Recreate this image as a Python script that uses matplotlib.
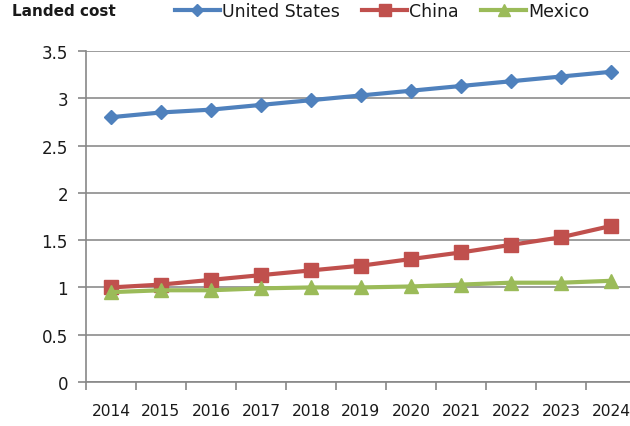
import matplotlib
matplotlib.use("Agg")
import matplotlib.pyplot as plt

years = ["2014", "2015", "2016", "2017", "2018", "2019", "2020", "2021", "2022", "2023", "2024"]
united_states = [2.80, 2.85, 2.88, 2.93, 2.98, 3.03, 3.08, 3.13, 3.18, 3.23, 3.28]
china = [1.00, 1.03, 1.08, 1.13, 1.18, 1.23, 1.30, 1.37, 1.45, 1.53, 1.65]
mexico = [0.95, 0.97, 0.97, 0.99, 1.00, 1.00, 1.01, 1.03, 1.05, 1.05, 1.07]
y_ticks = [0, 0.5, 1, 1.5, 2, 2.5, 3, 3.5]
y_tick_labels = ["0", "0.5", "1", "1.5", "2", "2.5", "3", "3.5"]

plt.rcParams["font.family"] = ["DejaVu Sans"]

fig = plt.figure(figsize=(6.3, 4.27), dpi=100)
W, H = 630, 427
left, right, top, bottom = 86, 636, 52, 383
ax = fig.add_axes([left / W, 1 - bottom / H, (right - left) / W, (bottom - top) / H])

x = list(range(len(years)))
ax.plot(x, united_states, color="#4F81BD", lw=3, marker="D", ms=7, label="United States", zorder=3)
ax.plot(x, china, color="#C0504D", lw=3, marker="s", ms=9.5, label="China", zorder=3)
ax.plot(x, mexico, color="#9BBB59", lw=3, marker="^", ms=10, label="Mexico", zorder=4)

ax.set_xlim(-0.5, len(years) - 0.5)
ax.set_ylim(0, 3.5)
ax.set_yticks(y_ticks)
ax.set_yticklabels(y_tick_labels)
ax.set_xticks(x)
ax.set_xticklabels(years)
ax.set_xticks([i - 0.5 for i in range(len(years) + 1)], minor=True)
ax.tick_params(axis="x", which="major", length=0, pad=15, labelsize=11.2, labelcolor="#1a1a1a")
ax.tick_params(axis="x", which="minor", length=6, color="#888888", width=1.2)
ax.tick_params(axis="y", length=6, color="#888888", width=1.2, pad=7, labelsize=12, labelcolor="#1a1a1a")
ax.grid(axis="y", color="#8c8c8c", lw=1.2)
ax.set_axisbelow(True)
for side in ["top", "right"]:
    ax.spines[side].set_visible(False)
for side in ["left", "bottom"]:
    ax.spines[side].set_color("#888888")
    ax.spines[side].set_linewidth(1.2)

fig.text(12 / W, 1 - 12 / H, "Landed cost", fontsize=11, fontweight="bold", va="center", ha="left", color="#1a1a1a")
fig.legend(loc="center", bbox_to_anchor=(382 / W, 1 - 12 / H), ncol=3, frameon=False,
           fontsize=12.5, handlelength=2.6, handletextpad=0.1, columnspacing=1.3,
           markerscale=0.9, labelcolor="#1a1a1a")

fig.savefig("out.png", dpi=100)
